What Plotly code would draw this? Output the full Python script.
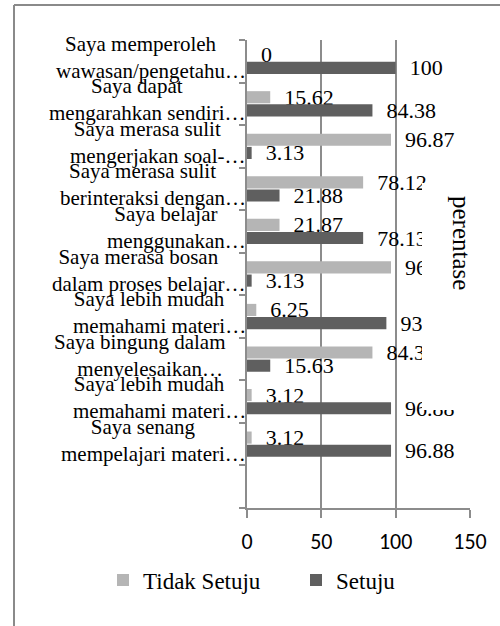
import plotly.graph_objects as go

line1 = ["Saya memperoleh", "Saya dapat", "Saya merasa sulit", "Saya merasa sulit",
         "Saya belajar", "Saya merasa bosan", "Saya lebih mudah", "Saya bingung dalam",
         "Saya lebih mudah", "Saya senang"]
line2 = ["wawasan/pengetahu…", "mengarahkan sendiri…", "mengerjakan soal-…",
         "berinteraksi dengan…", "menggunakan…", "dalam proses belajar…",
         "memahami materi…", "menyelesaikan…", "memahami materi…",
         "mempelajari materi…"]
tidak_setuju = [0, 15.62, 96.87, 78.12, 21.87, 96.87, 6.25, 84.37, 3.12, 3.12]
setuju = [100, 84.38, 3.13, 21.88, 78.13, 3.13, 93.75, 15.63, 96.88, 96.88]
x_ticks = [0, 50, 100, 150]
n_slots = 11  # the reference keeps one empty category slot at the bottom

W, H = 500, 626
L, R, T, B = 247, 30, 40, 118
PW, PH = W - L - R, H - T - B


def px(p):
    return (p - L) / PW


def py(p):
    return (H - B - p) / PH


idx = list(range(len(line1)))
GRID = "#8c8c8c"
SERIF = '"Liberation Serif", "Times New Roman", Times, serif'
SANS = 'Carlito, Lato, "Liberation Sans", sans-serif'
NB = "\u00a0"


def fmt(v):
    return NB * 2 + f"{v:g}"


fig = go.Figure()
fig.add_trace(go.Bar(
    y=idx, x=tidak_setuju, orientation="h", name="Tidak Setuju",
    marker=dict(color="#b5b5b5", line=dict(width=0)),
    text=[fmt(v) for v in tidak_setuju], textposition="outside", constraintext="none",
    textfont=dict(family=SERIF, size=22, color="black"),
))
fig.add_trace(go.Bar(
    y=idx, x=setuju, orientation="h", name="Setuju",
    marker=dict(color="#5f5f5f", line=dict(width=0)),
    text=[fmt(v) for v in setuju], textposition="outside", constraintext="none",
    textfont=dict(family=SERIF, size=22, color="black"),
))

annotations = []
for i, (a, b) in enumerate(zip(line1, line2)):
    annotations.append(dict(
        x=0, xref="paper", y=i, yref="y", xanchor="right", yanchor="middle",
        align="center", showarrow=False, xshift=1, yshift=4,
        text=a + NB * 4 + "<br>" + b,
        font=dict(family=SERIF, size=21, color="black"),
    ))
annotations.append(dict(
    x=px(462), y=py(243), xref="paper", yref="paper", text="perentase",
    textangle=90, showarrow=False, xanchor="center", yanchor="middle",
    font=dict(family=SERIF, size=25, color="black"),
))

shapes = [
    dict(type="rect", xref="paper", yref="paper", x0=px(422), x1=px(490),
         y0=py(410), y1=py(183), fillcolor="white", line=dict(width=0), layer="above"),
    dict(type="line", xref="paper", yref="paper", x0=px(14), x1=px(14),
         y0=py(5), y1=py(640), line=dict(color="#8a8a8a", width=2)),
    dict(type="line", xref="paper", yref="paper", x0=px(14), x1=px(520),
         y0=py(5), y1=py(5), line=dict(color="#8a8a8a", width=2)),
]

fig.update_layout(
    width=W, height=H, margin=dict(l=L, r=R, t=T, b=B, pad=0, autoexpand=False),
    paper_bgcolor="white", plot_bgcolor="white",
    barmode="group", bargap=0.38, bargroupgap=0.08,
    showlegend=True,
    legend=dict(orientation="h", x=px(103), xanchor="left", y=py(580), yanchor="middle",
                font=dict(family=SERIF, size=23, color="black"),
                entrywidth=148, entrywidthmode="pixels", traceorder="normal",
                bgcolor="rgba(0,0,0,0)"),
    annotations=annotations, shapes=shapes,
    xaxis=dict(range=[0, 150], tickvals=x_ticks, ticktext=[str(v) for v in x_ticks],
               showgrid=True, gridcolor=GRID, gridwidth=1.5, zeroline=False,
               showline=True, linecolor=GRID, linewidth=1.5,
               ticks="outside", ticklen=8, tickcolor=GRID, tickwidth=1.5,
               ticklabelstandoff=5,
               tickfont=dict(family=SANS, size=22, color="black")),
    yaxis=dict(range=[n_slots - 0.5, -0.5], tickvals=[i - 0.5 for i in range(n_slots + 1)],
               showticklabels=False, showgrid=False, zeroline=False,
               showline=True, linecolor=GRID, linewidth=1.5,
               ticks="outside", ticklen=6, tickcolor=GRID, tickwidth=1.5),
)

fig.write_html("out.html", config={"displayModeBar": False},
               post_script="document.body.style.margin='0px';document.body.style.overflow='hidden';")
